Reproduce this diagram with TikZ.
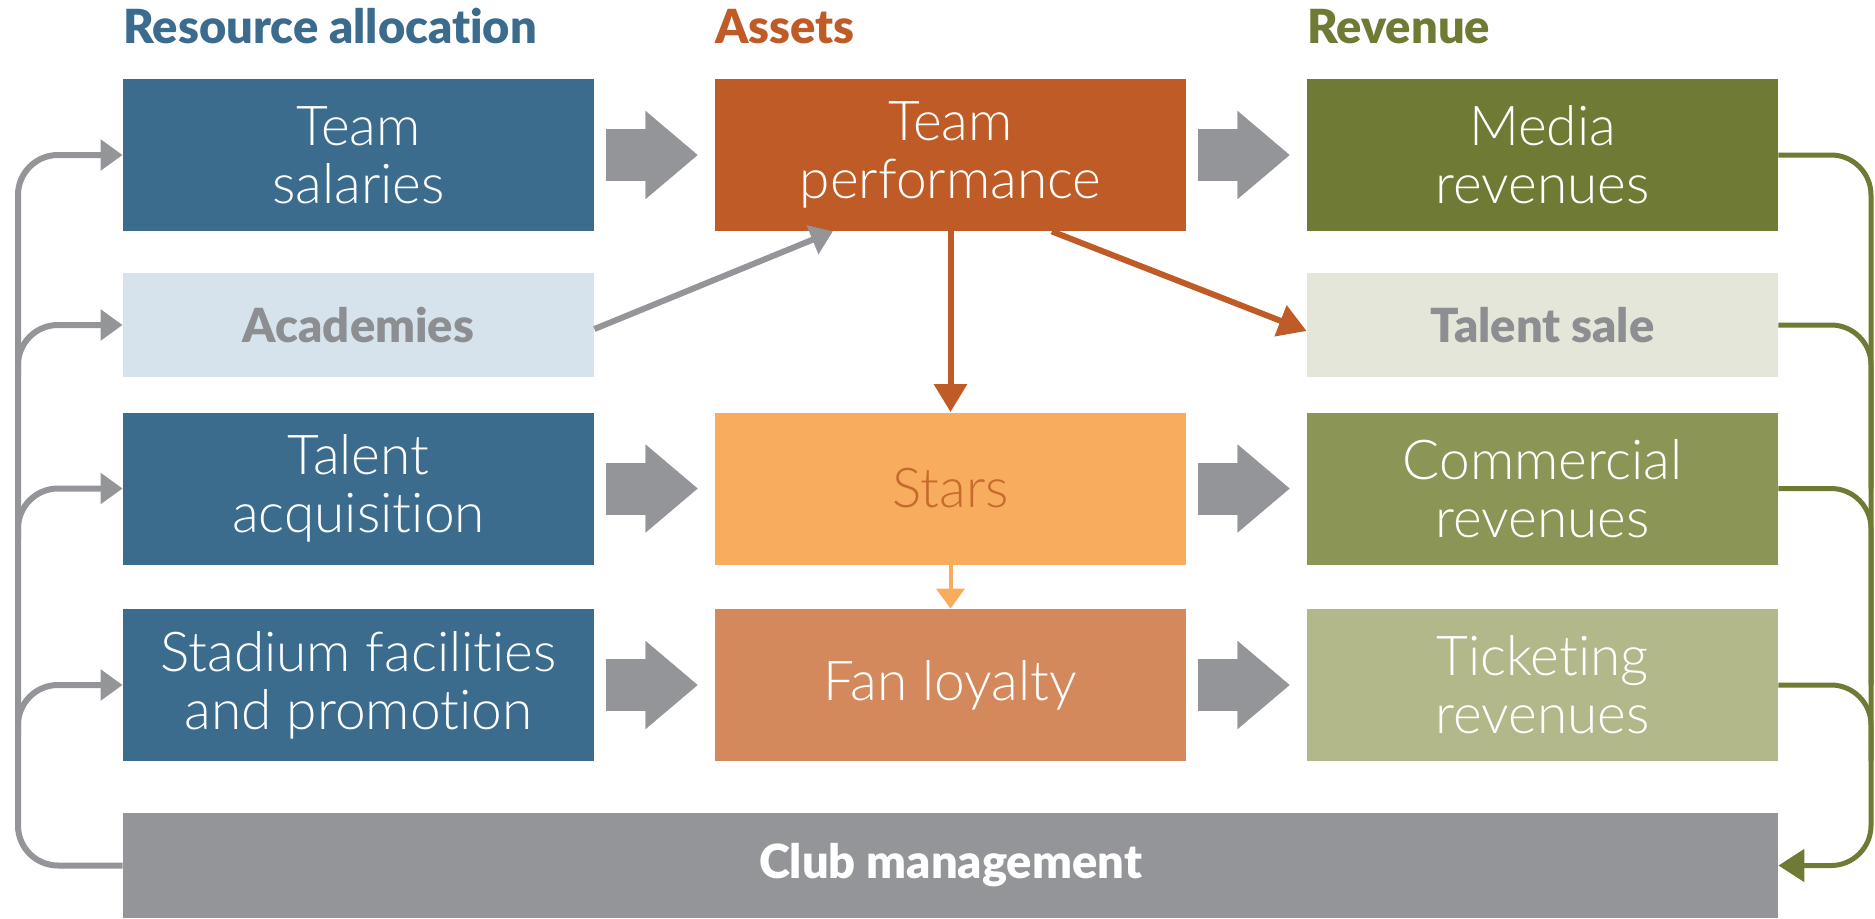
\documentclass[tikz,border=0pt]{standalone}
\usepackage{fontspec}
\setmainfont{Lato}
\newfontfamily\lightfont[Ligatures=NoCommon]{Lato Light}
\newfontfamily\heavyfont[Ligatures=NoCommon]{Lato Black}
\usetikzlibrary{arrows.meta,calc}

\definecolor{teamblue}{HTML}{3B6C8E}
\definecolor{academyblue}{HTML}{D7E3EC}
\definecolor{labelgray}{HTML}{8C8E92}
\definecolor{perforange}{HTML}{BE5B26}
\definecolor{starorange}{HTML}{F8AD5E}
\definecolor{starstext}{HTML}{C76A2E}
\definecolor{fanorange}{HTML}{D4895D}
\definecolor{mediagreen}{HTML}{6F7B34}
\definecolor{salegray}{HTML}{E5E6DA}
\definecolor{commgreen}{HTML}{8A9556}
\definecolor{ticketgreen}{HTML}{B2B889}
\definecolor{clubgray}{HTML}{939598}

\tikzset{
	box/.style={rectangle, minimum width=235.5pt, minimum height=76pt, inner sep=0pt, align=center, text=white, font=\lightfont\fontsize{27.5}{29}\selectfont},
	flatbox/.style={box, minimum height=52pt, text=labelgray, font=\heavyfont\fontsize{23.5}{26}\selectfont},
	heading/.style={anchor=base west, inner sep=0pt, font=\heavyfont\fontsize{23.5}{26}\selectfont},
	bigarrow/.style={draw=clubgray, line width=26pt, -{Triangle[length=26pt,width=44pt,line width=0.1pt]}},
	loopline/.style={draw=clubgray, line width=3pt, rounded corners=20pt, -{Triangle[length=11pt,width=15pt]}},
	revline/.style={draw=mediagreen, line width=2.5pt, rounded corners=20pt},
	perfline/.style={draw=perforange, line width=3pt, -{Triangle[length=14pt,width=16pt]}},
	starline/.style={draw=starorange, line width=2pt, -{Triangle[length=10pt,width=14pt]}}
}

\begin{document}
\begin{tikzpicture}[x=0.5pt, y=-0.5pt]
	%%%%% START %%%%%
	\useasboundingbox (0, 0) rectangle (1875, 918);
	
	\node[heading, text=teamblue] (headres) at (123, 43) {Resource allocation};
	\node[heading, text=perforange] (headassets) at (715, 43) {Assets};
	\node[heading, text=mediagreen] (headrev) at (1307, 43) {Revenue};
	
	% resources
	\node[box, fill=teamblue] (salaries) at (358.5, 155) {Team\\salaries};
	\node[flatbox, fill=academyblue] (academies) at (358.5, 325) {Academies};
	\node[box, fill=teamblue] (acquisition) at (358.5, 488.5) {Talent\\acquisition};
	\node[box, fill=teamblue] (stadium) at (358.5, 685) {Stadium facilities\\and promotion};
	
	% assets
	\node[box, fill=perforange] (performance) at (950.5, 155) {Team\\performance};
	\node[box, fill=starorange, text=starstext] (stars) at (950.5, 488.5) {Stars};
	\node[box, fill=fanorange] (loyalty) at (950.5, 685) {Fan loyalty};
	
	% revenue
	\node[box, fill=mediagreen] (media) at (1542.5, 155) {Media\\revenues};
	\node[flatbox, fill=salegray] (sale) at (1542.5, 325) {Talent sale};
	\node[box, fill=commgreen] (commercial) at (1542.5, 488.5) {Commercial\\revenues};
	\node[box, fill=ticketgreen] (ticketing) at (1542.5, 685) {Ticketing\\revenues};
	
	\node[flatbox, fill=clubgray, text=white, minimum width=827.5pt, minimum height=52.5pt] (club) at (950.5, 865.5) {Club management};
	
	\foreach \a/\b in {salaries/performance, acquisition/stars, stadium/loyalty, performance/media, stars/commercial, loyalty/ticketing}
		\draw[bigarrow] ([xshift=6pt]\a.east) -- ([xshift=-8.5pt]\b.west);
	
	\draw[perfline] (performance.south) -- (stars.north);
	\draw[perfline] (performance.-37) -- ($(sale.west)+(0, 6)$);
	\draw[starline] (stars.south) -- (loyalty.north);
	\draw[loopline] ($(academies.east)+(0, 4)$) -- (performance.213);
	
	% feedback on the left
	\coordinate (leftrail) at (18, 0);
	\draw[loopline] (club.west) -| (leftrail |- salaries.west) -- (salaries.west);
	\foreach \n in {academies, acquisition, stadium}
		\draw[loopline] ($(leftrail |- \n.west)+(0, 50)$) |- (\n.west);
	
	% revenue back to the club
	\coordinate (rightrail) at (1871, 0);
	\draw[revline, -{Triangle[length=13pt,width=16pt]}] (media.east) -| (rightrail |- club.east) -- (club.east);
	\draw[revline] (sale.east) -| (rightrail |- commercial.east);
	\draw[revline] (commercial.east) -| (rightrail |- ticketing.east);
	\draw[revline] (ticketing.east) -| (rightrail |- ticketing.south);
	%%%%% END %%%%%
\end{tikzpicture}
\end{document}
